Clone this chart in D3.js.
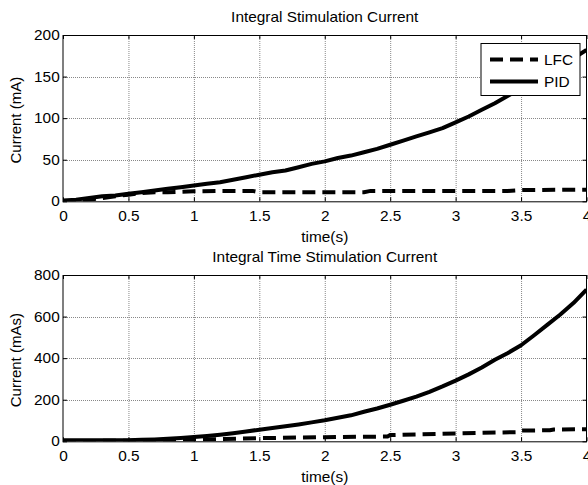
<!DOCTYPE html>
<html>
<head>
<meta charset="utf-8">
<script src="https://cdn.jsdelivr.net/npm/d3@7"></script>
<style>
body { margin: 0; background: #fff; }
text { font-family: "Liberation Sans", Arial, sans-serif; fill: #000; }
</style>
</head>
<body>
<div id="main"></div>
<script>
///////////
// DATA  //
///////////

const xTicks = [0, 0.5, 1, 1.5, 2, 2.5, 3, 3.5, 4]
const xTickLabels = ["0", "0.5", "1", "1.5", "2", "2.5", "3", "3.5", "4"]

// integral stimulation current (mA)
const tTop = [0, 0.1, 0.2, 0.3, 0.4, 0.5, 0.6, 0.7, 0.8, 0.9, 1.0, 1.1, 1.2, 1.3, 1.4, 1.5, 1.6, 1.7, 1.8, 1.9,
    2.0, 2.1, 2.2, 2.3, 2.4, 2.5, 2.6, 2.7, 2.8, 2.9, 3.0, 3.1, 3.2, 3.3, 3.4, 3.5, 3.6, 3.7, 3.8, 3.9, 4.0]
const pidTop = [1, 2, 4, 6, 7, 9, 11, 13, 15, 17, 19, 21, 23, 26, 29, 32, 35, 37, 41, 45,
    48, 52, 55, 59, 63, 68, 73, 78, 83, 88, 95, 102, 110, 118, 127, 136, 145, 155, 163, 172, 182]
const tLfcTop = [0, 0.1, 0.2, 0.3, 0.4, 0.5, 0.6, 0.7, 0.8, 1.0, 1.2, 1.45, 1.5, 2.3, 2.35, 3.4, 3.5, 4.0]
const lfcTop = [0, 0.5, 2, 4, 6, 8, 10, 11, 11, 12, 12.5, 12.5, 11, 11, 12.5, 12.5, 13.5, 14]
const yTicksTop = [0, 50, 100, 150, 200]

// integral time stimulation current (mAs)
const tBot = tTop
const pidBot = [5, 5, 5, 5, 5, 5, 7, 9, 12, 16, 21, 26, 32, 39, 47, 56, 64, 72, 81, 91,
    101, 113, 125, 142, 158, 176, 195, 215, 238, 264, 292, 322, 355, 392, 425, 462, 510, 560, 610, 665, 730]
const tLfcBot = [0, 0.5, 1.0, 1.5, 2.0, 2.48, 2.5, 3.0, 3.48, 3.5, 3.72, 3.75, 4.0]
const lfcBot = [1, 3, 8, 15, 20, 23, 30, 38, 44, 52, 53, 57, 58]
const yTicksBot = [0, 200, 400, 600, 800]

///////////
// SETUP //
///////////

let width = 588
let height = 485
let left = 63, right = 586.5

let svg = d3.select("#main").append("svg")
    .attr("width", width)
    .attr("height", height)

let line = (x, y) => d3.line().x(d => x(d[0])).y(d => y(d[1]))

function draw_panel(p) {
    let x = d3.scaleLinear().domain([0, 4]).range([left, right])
    let y = d3.scaleLinear().domain(p.ydomain).range([p.bottom, p.top])
    let g = svg.append("g")

    // grid
    g.selectAll("line.vgrid").data(xTicks.slice(1, -1)).enter().append("line")
        .attr("x1", d => x(d) + .5).attr("x2", d => x(d) + .5)
        .attr("y1", p.top).attr("y2", p.bottom)
        .attr("stroke", "#888").attr("stroke-dasharray", "1,1")
    g.selectAll("line.hgrid").data(p.yticks.slice(1, -1)).enter().append("line")
        .attr("y1", d => Math.round(y(d)) + .5).attr("y2", d => Math.round(y(d)) + .5)
        .attr("x1", left).attr("x2", right)
        .attr("stroke", "#888").attr("stroke-dasharray", "1,1")

    // axes, ticks pointing inward
    let xa = g.append("g").attr("transform", `translate(0,${p.bottom})`)
        .call(d3.axisBottom(x).tickValues(xTicks).tickFormat((d, i) => xTickLabels[i])
            .tickSizeInner(-4).tickSizeOuter(0).tickPadding(10))
    g.append("g").attr("transform", `translate(0,${p.top})`)
        .call(d3.axisTop(x).tickValues(xTicks).tickFormat("").tickSizeInner(-4).tickSizeOuter(0))
    let ya = g.append("g").attr("transform", `translate(${left},0)`)
        .call(d3.axisLeft(y).tickValues(p.yticks).tickSizeInner(-4).tickSizeOuter(0).tickPadding(3))
    g.append("g").attr("transform", `translate(${right},0)`)
        .call(d3.axisRight(y).tickValues(p.yticks).tickFormat("").tickSizeInner(-4).tickSizeOuter(0))
    g.selectAll(".domain").remove()
    g.selectAll(".tick line").attr("stroke", "#000")
    g.selectAll(".tick text").attr("font-size", 14).attr("transform", "scale(1.1,1)")
        .attr("font-family", "Liberation Sans, Arial, sans-serif")

    // series
    let clipId = "clip" + p.top
    svg.append("clipPath").attr("id", clipId).append("rect")
        .attr("x", left).attr("y", p.top).attr("width", right - left).attr("height", p.bottom - p.top)
    let lines = g.append("g").attr("clip-path", `url(#${clipId})`)
    lines.append("path")
        .datum(p.lfcT.map((t, i) => [t, p.lfc[i]]))
        .attr("d", line(x, y)).attr("fill", "none").attr("stroke", "#000")
        .attr("stroke-width", 4).attr("stroke-dasharray", "13,7")
    lines.append("path")
        .datum(p.pidT.map((t, i) => [t, p.pid[i]]))
        .attr("d", line(x, y)).attr("fill", "none").attr("stroke", "#000")
        .attr("stroke-width", 4).attr("stroke-linejoin", "round")

    // frame
    g.append("rect").attr("x", left).attr("y", p.top + .5)
        .attr("width", right - left).attr("height", p.bottom - p.top)
        .attr("fill", "none").attr("stroke", "#000")

    // labels
    let cx = (left + right) / 2
    g.append("text").attr("text-anchor", "middle").attr("font-size", 14)
        .attr("transform", `translate(${cx},${p.top - 12.7}) scale(1.1,1)`)
        .text(p.title)
    g.append("text").attr("text-anchor", "middle").attr("font-size", 14)
        .attr("transform", `translate(${cx},${p.bottom + 40.5}) scale(1.1,1)`)
        .text("time(s)")
    g.append("text").attr("text-anchor", "middle").attr("font-size", 15)
        .attr("transform", `translate(21,${(p.top + p.bottom) / 2 + 2}) rotate(-90)`)
        .text(p.ylabel)

    return {x: x, y: y, g: g}
}

//////////
// DRAW //
//////////

let topPanel = draw_panel({
    top: 35, bottom: 201.3, ydomain: [0, 200], yticks: yTicksTop,
    pidT: tTop, pid: pidTop, lfcT: tLfcTop, lfc: lfcTop,
    title: "Integral Stimulation Current", ylabel: "Current (mA)"
})

draw_panel({
    top: 275, bottom: 441.3, ydomain: [0, 800], yticks: yTicksBot,
    pidT: tBot, pid: pidBot, lfcT: tLfcBot, lfc: lfcBot,
    title: "Integral Time Stimulation Current", ylabel: "Current (mAs)"
})

// legend (top panel only)
let legend = svg.append("g").attr("transform", "translate(481,43.5)")
legend.append("rect").attr("width", 99).attr("height", 52)
    .attr("fill", "#fff").attr("stroke", "#000")
let entries = [["LFC", "13,7"], ["PID", null]]
entries.forEach((e, i) => {
    let yy = 16 + i * 22
    legend.append("line").attr("x1", 9).attr("x2", 57).attr("y1", yy).attr("y2", yy)
        .attr("stroke", "#000").attr("stroke-width", 4)
        .attr("stroke-dasharray", e[1])
    legend.append("text").attr("font-size", 14)
        .attr("transform", `translate(63,${yy + 5}) scale(1.1,1)`)
        .text(e[0])
})
</script>
</body>
</html>
